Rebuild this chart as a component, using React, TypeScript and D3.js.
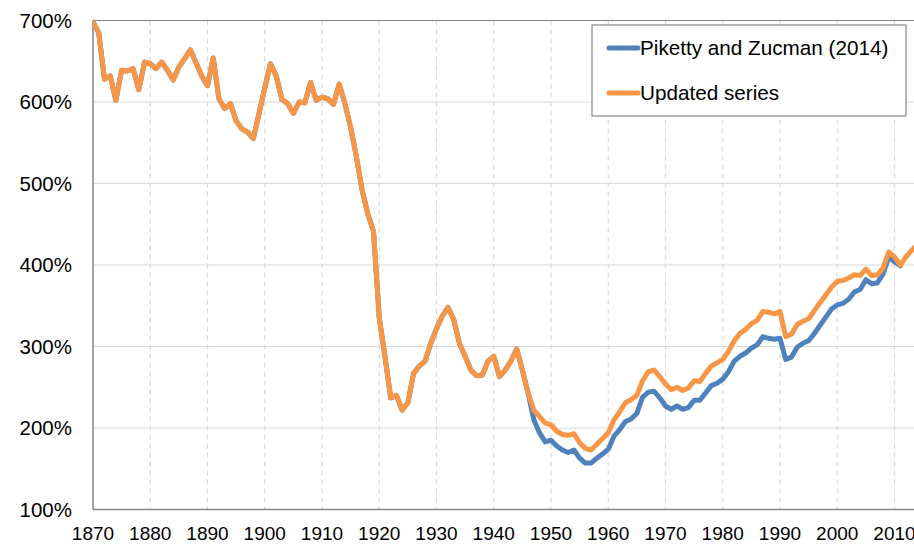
import React from "react";
import * as d3 from "d3";

const W = 914;
const H = 544;

// Shared history (both series identical) 1870–1946
const sharedStartYear = 1870;
const sharedValues = [
  698, 685, 628, 632, 602, 639, 638, 641, 615, 649,
  647, 641, 649, 639, 627, 643, 653, 664, 648, 632,
  620, 654, 604, 592, 598, 577, 567, 563, 555, 586,
  617, 647, 632, 603, 598, 586, 600, 599, 624, 602,
  606, 604, 597, 622, 598, 569, 533, 492, 463, 441,
  335, 288, 237, 240, 222, 231, 267, 276, 282, 304,
  322, 337, 348, 333, 304, 288, 271, 264, 265, 282,
  288, 263, 271, 282, 297, 271, 243,
];

// Piketty and Zucman (2014) from 1947
const pzStartYear = 1947;
const pzValues = [
  210, 194, 183, 185, 178, 173, 170, 173, 163, 157,
  157, 163, 168, 174, 190, 198, 208, 211, 218, 238,
  244, 245, 237, 227, 223, 227, 223, 225, 234, 234,
  243, 252, 255, 260, 269, 282, 288, 292, 298, 302,
  312, 310, 309, 310, 284, 287, 299, 304, 307, 316,
  326, 336, 346, 351, 353, 358, 367, 370, 382, 377,
  378, 389, 410, 404, 399,
];

// Updated series from 1947
const updStartYear = 1947;
const updValues = [
  222, 214, 206, 204, 196, 192, 191, 193, 182, 175,
  173, 180, 187, 194, 210, 220, 231, 235, 240, 258,
  269, 271, 263, 254, 247, 250, 246, 249, 258, 257,
  267, 276, 280, 284, 294, 307, 316, 321, 328, 332,
  343, 342, 340, 343, 312, 315, 327, 331, 334, 344,
  354, 363, 373, 380, 381, 384, 388, 387, 395, 387,
  388, 396, 416, 410, 400, 410, 418, 425,
];

const yTicks = [100, 200, 300, 400, 500, 600, 700];
const xTicks = [1870, 1880, 1890, 1900, 1910, 1920, 1930, 1940, 1950, 1960, 1970, 1980, 1990, 2000, 2010];
const seriesNames = ["Piketty and Zucman (2014)", "Updated series"];
const seriesColors = ["#4F81BD", "#F79646"];

type Pt = { year: number; value: number };

function toPts(start: number, vals: number[]): Pt[] {
  return vals.map((v, i) => ({ year: start + i, value: v }));
}

export default function App() {
  const left = 93;
  const top = 20.5;
  const bottom = 509.5;
  const x = d3.scaleLinear().domain([1870, 2010]).range([left, 894.5]);
  const y = d3.scaleLinear().domain([100, 700]).range([bottom, top]);
  const rightEdge = x(2016);

  const shared = toPts(sharedStartYear, sharedValues);
  const pz = [...shared, ...toPts(pzStartYear, pzValues)];
  const upd = [...shared, ...toPts(updStartYear, updValues)];

  const line = d3
    .line<Pt>()
    .x((d) => x(d.year))
    .y((d) => y(d.value));

  const font = "'Liberation Sans', Arial, sans-serif";

  return (
    <svg
      width={W}
      height={H}
      style={{ position: "absolute", left: 0, top: 0, background: "#fff" }}
      fontFamily={font}
    >
      <defs>
        <clipPath id="plot">
          <rect x={left} y={0} width={rightEdge - left} height={bottom + 2} />
        </clipPath>
      </defs>
      {/* horizontal gridlines */}
      {yTicks.slice(1, -1).map((t) => (
        <line key={t} x1={left} x2={rightEdge} y1={y(t)} y2={y(t)} stroke="#d9d9d9" strokeWidth={1.2} />
      ))}
      {/* vertical dashed gridlines */}
      {xTicks.slice(1).map((t) => (
        <line
          key={t}
          x1={x(t)}
          x2={x(t)}
          y1={top}
          y2={bottom}
          stroke="#d9d9d9"
          strokeWidth={1.2}
          strokeDasharray="5,4"
        />
      ))}
      {/* plot border top */}
      <line x1={left} x2={rightEdge} y1={y(700)} y2={y(700)} stroke="#868686" strokeWidth={1.2} />
      {/* axes */}
      <line x1={left} x2={left} y1={top} y2={bottom} stroke="#868686" strokeWidth={1.5} />
      <line x1={left} x2={rightEdge} y1={bottom} y2={bottom} stroke="#868686" strokeWidth={1.5} />

      <g clipPath="url(#plot)">
        <path d={line(pz) || ""} fill="none" stroke={seriesColors[0]} strokeWidth={5} strokeLinejoin="round" strokeLinecap="round" />
        <path d={line(upd) || ""} fill="none" stroke={seriesColors[1]} strokeWidth={5} strokeLinejoin="round" strokeLinecap="round" />
      </g>

      {/* y tick labels */}
      {yTicks.map((t) => (
        <text key={t} x={72} y={y(t) + 7} textAnchor="end" fontSize={20.5} fill="#000">
          {t}%
        </text>
      ))}
      {/* x tick labels */}
      {xTicks.map((t) => (
        <text key={t} x={x(t)} y={540} textAnchor="middle" fontSize={19} fill="#000">
          {t}
        </text>
      ))}

      {/* legend */}
      <rect x={592} y={25} width={314} height={91} fill="#fff" stroke="#868686" strokeWidth={1.2} />
      {seriesNames.map((n, i) => (
        <g key={n}>
          <line x1={609} x2={638} y1={48 + i * 45} y2={48 + i * 45} stroke={seriesColors[i]} strokeWidth={5} strokeLinecap="round" />
          <text x={640} y={55 + i * 45} fontSize={20.7} fill="#000">
            {n}
          </text>
        </g>
      ))}
    </svg>
  );
}
